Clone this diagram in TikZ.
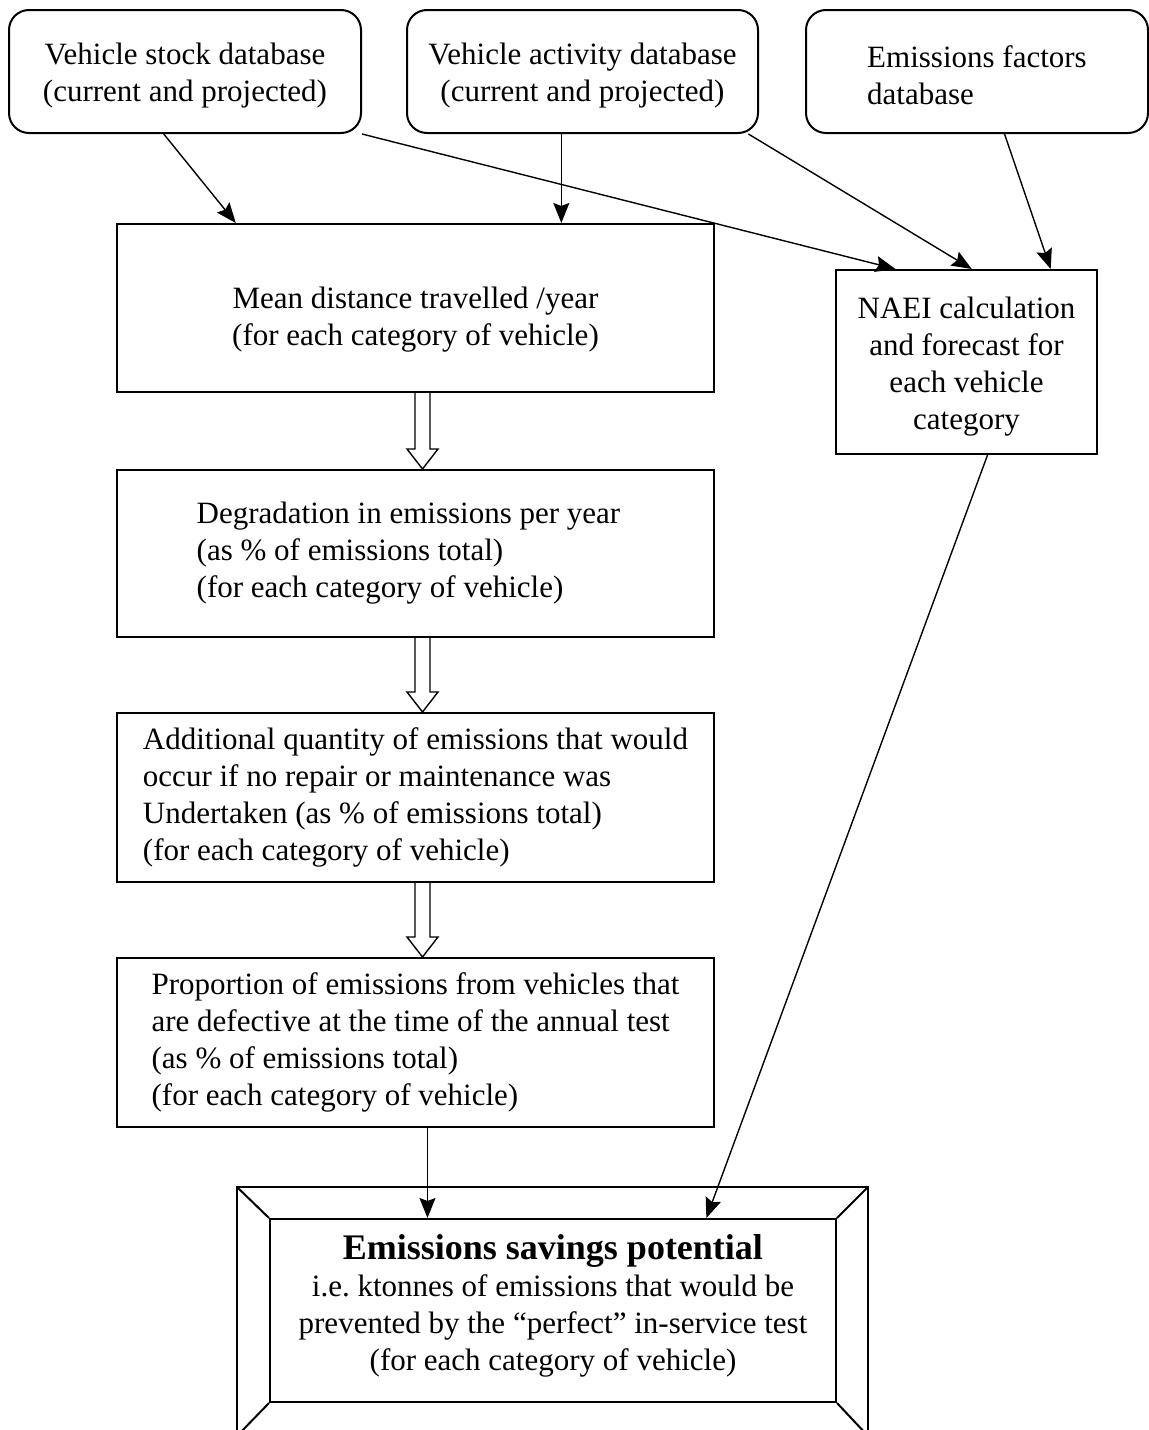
\documentclass[tikz,border=0pt]{standalone}
\usepackage{fontspec}
\setmainfont{Liberation Serif}
\usetikzlibrary{arrows.meta, calc}

\begin{document}
\begin{tikzpicture}[x=0.5pt, y=-0.5pt,
  every node/.style={font=\fontsize{15.5}{18.5}\selectfont},
  db/.style={draw, line width=1pt, rounded corners=10pt, minimum width=#1, minimum height=61.5pt, inner sep=0pt},
  box/.style={draw, line width=1pt, minimum width=298.5pt, inner sep=0pt},
  line/.style={line width=0.7pt, -{Stealth[length=10pt, width=8pt, inset=1.5pt]}},
  hollow/.style={line width=0.7pt, to path={([shift={(-0.5,0)}]\tikztostart) -- ([shift={(-0.5,-20)}]\tikztotarget) -- ([shift={(-8.5,-20)}]\tikztotarget) -- ([shift={(7,0)}]\tikztotarget) -- ([shift={(22.5,-20)}]\tikztotarget) -- ([shift={(14.5,-20)}]\tikztotarget) -- ([shift={(14.5,0)}]\tikztostart)}}
]
\useasboundingbox (0,0) rectangle (1149,1430);
\clip (0,0) rectangle (1149,1430);

% the three databases
\node[db=176pt, align=center] (stock) at (185,71.5) {\rule{0pt}{14.6pt}Vehicle stock database\\(current and projected)};
\node[db=175.5pt, align=center] (act) at (582.5,71.5) {\rule{0pt}{14.6pt}Vehicle activity database\\(current and projected)};
\node[db=171pt, align=left] (fact) at (977,71.5) {\rule{0pt}{14.6pt}Emissions factors\\database};

% chain of boxes
\node[box, minimum height=84pt, align=center] (dist) at (415.5,308) {\rule{0pt}{22.6pt}Mean distance travelled /year\\(for each category of vehicle)};
\node[draw, line width=1pt, minimum width=130.5pt, minimum height=92pt, inner sep=0pt, align=center] (naei) at (966.5,362) {\rule{0pt}{15.6pt}NAEI calculation\\and forecast for\\each vehicle\\category};
\node[box, minimum height=83.5pt, align=left] (deg) at (415.5,553.5) {Degradation in emissions per year\hspace*{7pt}\\(as \% of emissions total)\\(for each category of vehicle)};
\node[box, minimum height=84.5pt, align=left] (extra) at (415.5,797.5) {Additional quantity of emissions that would\\occur if no repair or maintenance was\\Undertaken (as \% of emissions total)\\(for each category of vehicle)};
\node[box, minimum height=84.5pt, align=left] (defect) at (415.5,1042.5) {Proportion of emissions from vehicles that\\are defective at the time of the annual test\\(as \% of emissions total)\\(for each category of vehicle)};
\node[draw, line width=1pt, minimum width=283pt, minimum height=91.5pt, inner sep=0pt, align=center] (save) at (553,1310.5) {{\fontsize{18}{22}\selectfont\bfseries Emissions savings potential}\\i.e.\ ktonnes of emissions that would be\\prevented by the “perfect” in-service test\\(for each category of vehicle)\rule[-8.4pt]{0pt}{0pt}};

% bevel frame
\draw[line width=1pt] ([shift={(-32,-31)}]save.north west) rectangle ([shift={(31,33)}]save.south east);
\foreach \c/\dx/\dy in {north west/-32/-31, north east/31/-31, south west/-32/33, south east/31/33}
  \draw[line width=1pt] (save.\c) -- ++(\dx,\dy);

% arrows
\draw[line] ($(stock.south west)!.44!(stock.south east)$) -- ($(dist.north west)!.2!(dist.north east)$);
\draw[line] (stock.south east) -- ($(naei.north west)!.23!(naei.north east)$);
\coordinate (a) at ($(act.south west)!.44!(act.south east)$);
\draw[line] (a) -- (a |- dist.north);
\draw[line] ($(act.south west)!.97!(act.south east)$) -- ($(naei.north west)!.52!(naei.north east)$);
\draw[line] ($(fact.south west)!.58!(fact.south east)$) -- ($(naei.north west)!.82!(naei.north east)$);
\draw[line] ($(naei.south west)!.58!(naei.south east)$) -- ($(save.north west)!.77!(save.north east)$);
\coordinate (d) at ($(defect.south west)!.52!(defect.south east)$);
\draw[line] (d) -- (d |- save.north);

\draw[hollow] (dist.south) to (deg.north);
\draw[hollow] (deg.south) to (extra.north);
\draw[hollow] (extra.south) to (defect.north);
\end{tikzpicture}
\end{document}
